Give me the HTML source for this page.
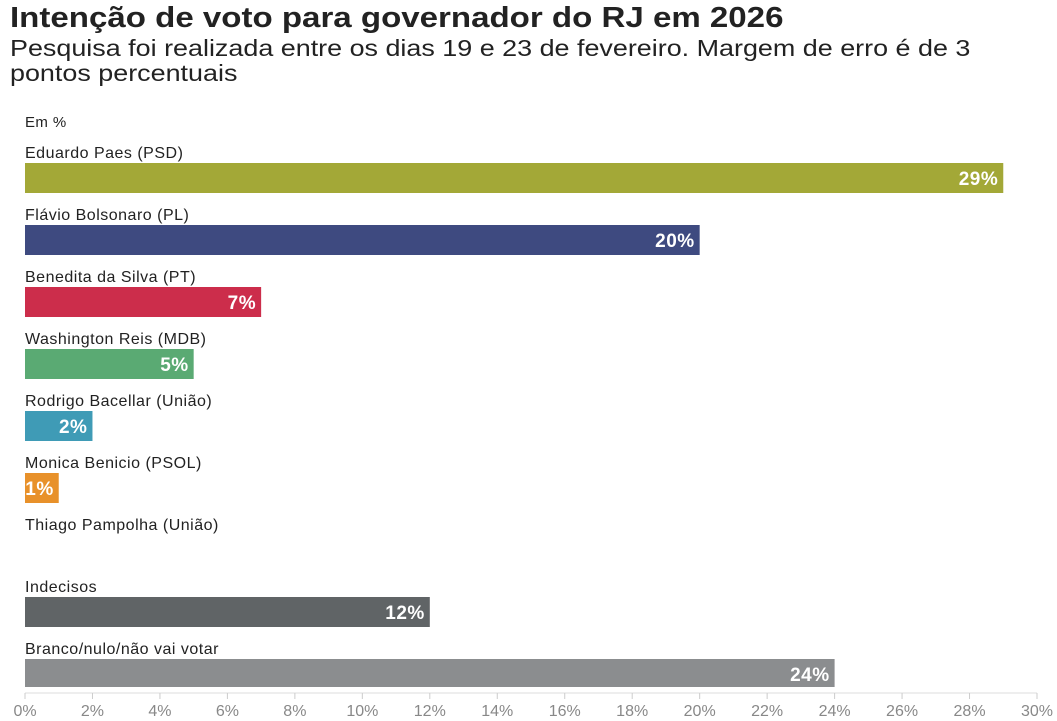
<!DOCTYPE html>
<html><head><meta charset="utf-8">
<style>
body{margin:0;width:1057px;height:721px;background:#fff;font-family:"Liberation Sans",sans-serif;color:#222;overflow:hidden;position:relative}
#title{position:absolute;left:10px;top:2px;font-size:29px;font-weight:bold;color:#222;margin:0;transform:scaleX(1.14);transform-origin:0 0;white-space:nowrap}
#sub{position:absolute;left:10px;top:36px;font-size:23px;line-height:25px;color:#222;width:850px;transform:scaleX(1.17);transform-origin:0 0}
svg{position:absolute;left:0;top:0}
</style></head><body>
<h1 id="title">Intenção de voto para governador do RJ em 2026</h1>
<div id="sub">Pesquisa foi realizada entre os dias 19 e 23 de fevereiro. Margem de erro é de 3 pontos percentuais</div>
<svg id="chart" width="1057" height="721"></svg>
<script>
const categories=["Eduardo Paes (PSD)","Flávio Bolsonaro (PL)","Benedita da Silva (PT)","Washington Reis (MDB)","Rodrigo Bacellar (União)","Monica Benicio (PSOL)","Thiago Pampolha (União)","Indecisos","Branco/nulo/não vai votar"];
const values=[29,20,7,5,2,1,0,12,24];
const colors=["#a3a837","#3e4a80","#cc2d4b","#5aaa73","#3f9bb6","#e8912a","#999","#606466","#8b8d8f"];
const ticks=[0,2,4,6,8,10,12,14,16,18,20,22,24,26,28,30];
const NS="http://www.w3.org/2000/svg";
const svg=document.getElementById('chart');
const x=v=>25+v*(1037-25)/30;
const rowY=i=>163+i*62;
function mk(t,a,txt){const e=document.createElementNS(NS,t);for(const k in a)e.setAttribute(k,a[k]);if(txt!==undefined)e.textContent=txt;svg.appendChild(e);return e;}
const u=mk('text',{x:25,y:127,'font-size':15,'letter-spacing':0.4,fill:'#222'},'Em %');


categories.forEach((c,i)=>{
  const y=rowY(i);
  const l=mk('text',{x:25,y:y-5,'font-size':16,'letter-spacing':0.5,fill:'#222'},c);
  
  
  if(values[i]>0){
    const r=mk('rect',{x:x(0),y:y,width:x(values[i])-x(0),height:i==8?28:30,fill:colors[i]});
    
    
    const v=mk('text',{x:x(values[i])-5,y:y+22,'font-size':19,'font-weight':'bold','letter-spacing':0.5,fill:'#fff','text-anchor':'end'},values[i]+'%');
    
    
  }
});
const ax=mk('line',{x1:x(0),x2:x(30),y1:693,y2:693,stroke:'#ddd','stroke-width':1});


ticks.forEach(t=>{
  const tk=mk('line',{x1:x(t),x2:x(t),y1:693,y2:699,stroke:'#ccc'});
  
  
  const tl=mk('text',{x:x(t),y:716,'font-size':16,fill:'#888','text-anchor':'middle'},t+'%');
  
  
});
</script>
</body></html>
